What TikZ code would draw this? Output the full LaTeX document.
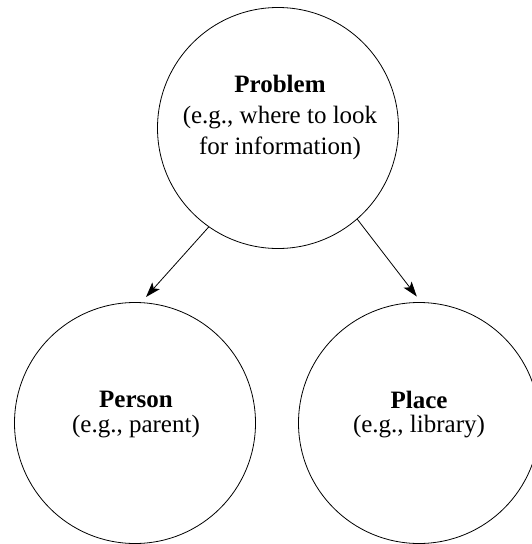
\documentclass[tikz,border=0pt]{standalone}
\usepackage{fontspec}
\setmainfont{Liberation Serif}
\usetikzlibrary{arrows.meta,calc}
\begin{document}
\begin{tikzpicture}[x=1pt,y=-1pt,
  bubble/.style={draw, circle, line width=0.8pt, minimum size=241pt, inner sep=0pt},
  lbl/.style={font=\fontsize{25}{30}\selectfont, anchor=base, inner sep=0pt},
  arr/.style={line width=0.8pt, -{Stealth[length=15pt,width=10pt,inset=3.5pt]}}]
\useasboundingbox (0,0) rectangle (532,544);
\node[bubble] (top) at (278,128) {};
\node[bubble, outer sep=6pt] (left) at (135,423) {};
\node[bubble, outer sep=6pt] (right) at (419,423) {};
\node[lbl] (t1) at (280,92) {\textbf{Problem}};
\node[lbl] (t2) at (280,123) {(e.g., where to look};
\node[lbl] (t3) at (280,154) {for information)};
\node[lbl] (l1) at (136,407) {\textbf{Person}};
\node[lbl] (l2) at (136,432) {(e.g., parent)};
\node[lbl] (r1) at (419,408) {\textbf{Place}};
\node[lbl] (r2) at (419,432) {(e.g., library)};
\draw[arr] (top.235) -- (left.85);
\draw[arr] (top.311) -- (right.91);
\end{tikzpicture}
\end{document}
